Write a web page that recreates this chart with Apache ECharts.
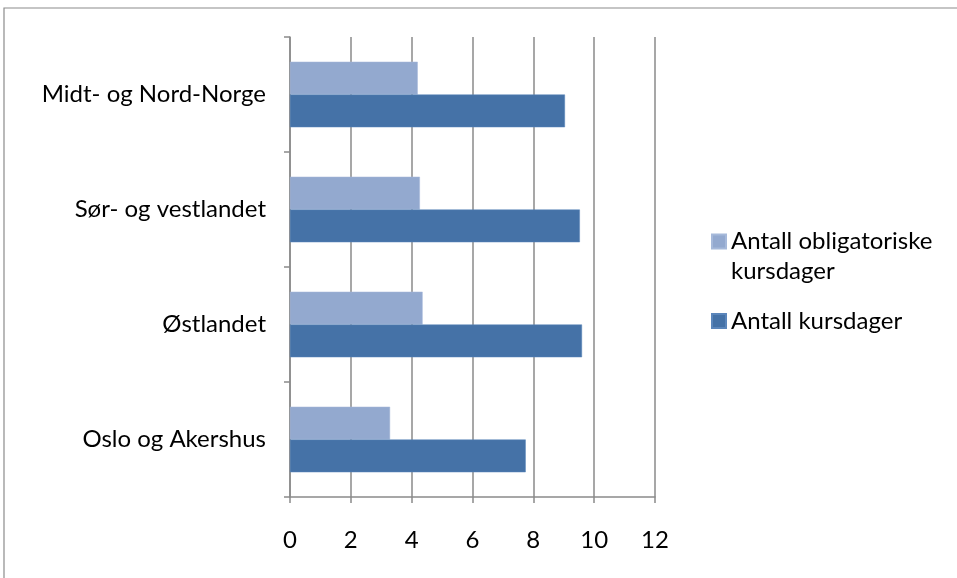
<!DOCTYPE html>
<html>
<head>
<meta charset="utf-8">
<script src="https://cdn.jsdelivr.net/npm/echarts@6/dist/echarts.min.js"></script>
<style>
  html, body { margin: 0; padding: 0; background: #fff; }
  #chart { width: 957px; height: 578px; }
</style>
</head>
<body>
<div id="chart"></div>
<script>
// Regions, listed bottom to top along the category axis
const regions = ['Oslo og Akershus', 'Østlandet', 'Sør- og vestlandet', 'Midt- og Nord-Norge'];
// Mandatory course days per region
const obligatoriske = [3.29, 4.36, 4.27, 4.20];
// Total course days per region
const kursdager = [7.75, 9.60, 9.53, 9.04];
const xTicks = [0, 2, 4, 6, 8, 10, 12];

const NAME_TOTAL = 'Antall kursdager';
const NAME_MAND = 'Antall obligatoriske kursdager';

const FONT = 'Lato';
const FONT_SIZE = 24;
const GRID_GRAY = '#8a8a8a';

const chart = echarts.init(document.getElementById('chart'), null, { renderer: 'canvas' });

chart.setOption({
  animation: false,
  backgroundColor: '#ffffff',
  textStyle: { fontFamily: FONT },
  graphic: [{
    type: 'rect',
    shape: { x: 4, y: 8, width: 1200, height: 1200 },
    style: { fill: 'none', stroke: '#8c8c8c', lineWidth: 1.2 },
    silent: true
  }],
  grid: { left: 290, right: 302, top: 37, bottom: 81, containLabel: false },
  legend: {
    orient: 'vertical',
    left: 711,
    top: 200,
    padding: 0,
    itemGap: 26,
    itemWidth: 14,
    itemHeight: 14,
    icon: 'rect',
    data: [NAME_MAND, NAME_TOTAL],
    formatter: function (name) {
      if (name === NAME_MAND) {
        // blank first line keeps the swatch level with the first text line
        return '{sp| }\n{a|Antall obligatoriske}\n{a|kursdager}';
      }
      return '{a|' + name + '}';
    },
    textStyle: {
      color: '#000',
      fontFamily: FONT,
      fontSize: FONT_SIZE,
      rich: {
        a: { fontSize: FONT_SIZE, lineHeight: 29.5, color: '#000', fontFamily: FONT },
        sp: { fontSize: FONT_SIZE, lineHeight: 29.5 }
      }
    }
  },
  xAxis: {
    type: 'value',
    min: 0,
    max: 12,
    interval: 2,
    axisLine: { show: true, lineStyle: { color: GRID_GRAY, width: 1.5 } },
    axisTick: { show: true, length: 6, lineStyle: { color: GRID_GRAY, width: 1.5 } },
    splitLine: { show: true, lineStyle: { color: GRID_GRAY, width: 1.5 } },
    axisLabel: {
      color: '#000',
      fontSize: FONT_SIZE,
      fontFamily: FONT,
      margin: 31,
      formatter: function (v) { return xTicks.indexOf(v) >= 0 ? String(v) : ''; }
    }
  },
  yAxis: {
    type: 'category',
    data: regions,
    axisLine: { show: true, lineStyle: { color: GRID_GRAY, width: 1.5 } },
    axisTick: { show: true, length: 6, lineStyle: { color: GRID_GRAY, width: 1.5 } },
    axisLabel: { color: '#000', fontSize: FONT_SIZE, fontFamily: FONT, margin: 24 }
  },
  series: [
    {
      name: NAME_MAND,
      type: 'bar',
      data: obligatoriske,
      barGap: '0%',
      barCategoryGap: '43%',
      itemStyle: { color: '#93a9cf', borderColor: '#a6b9da', borderWidth: 0.5 }
    },
    {
      name: NAME_TOTAL,
      type: 'bar',
      data: kursdager,
      barGap: '0%',
      barCategoryGap: '43%',
      itemStyle: { color: '#4572a7', borderColor: '#5b86bb', borderWidth: 0.5 }
    }
  ]
});
</script>
</body>
</html>
